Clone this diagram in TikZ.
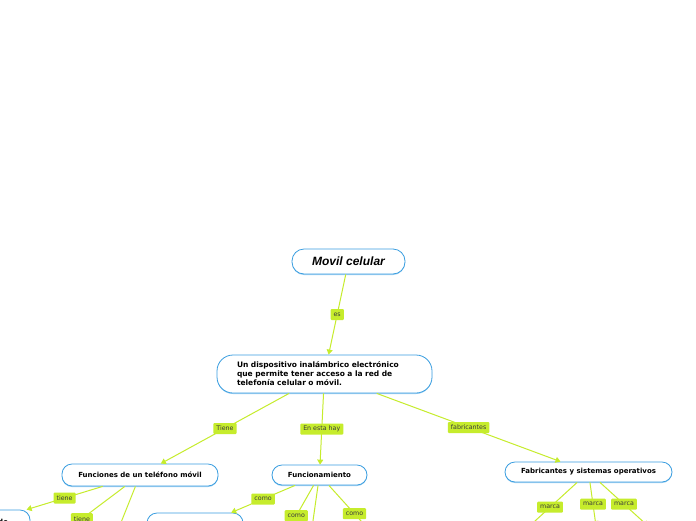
\documentclass[tikz,border=0pt]{standalone}
\usepackage{fontspec}
\newfontfamily\dv{DejaVu Sans}
\newfontfamily\lib{Liberation Sans}
\usetikzlibrary{arrows.meta,shadows}
\definecolor{mmlime}{HTML}{C6EC2C}
\definecolor{mmblue}{HTML}{3A9EE0}
\definecolor{mmshadow}{HTML}{A3D2F2}
\definecolor{mmtext}{HTML}{3B3B3B}
\tikzset{
 topic/.style={draw=mmblue, line width=0.8pt, fill=white, rounded corners=10pt,
   font=\dv\bfseries\fontsize{7}{9}\selectfont, text=black, inner sep=0pt,
   drop shadow={shadow xshift=0pt, shadow yshift=-1pt, fill=mmshadow, opacity=1}},
 lbl/.style={fill=mmlime, text=mmtext, font=\dv\fontsize{6.3}{7}\selectfont,
   inner xsep=3pt, inner ysep=0pt, minimum height=11pt, rounded corners=1pt},
 conn/.style={draw=mmlime, line width=1pt, -{Triangle[length=5pt,width=6pt]}},
}
\begin{document}
\begin{tikzpicture}[x=1pt,y=-1pt]
\useasboundingbox (0,0) rectangle (696,520);
\clip (0,0) rectangle (696,520);
\fill[white] (0,0) rectangle (696,520);
% nodes
\node[topic, minimum width=113pt, minimum height=25pt, rounded corners=12pt,
  font=\lib\bfseries\itshape\fontsize{12}{14}\selectfont] (mc) at (348.5,261.5) {Movil celular};
\node[topic, minimum width=215pt, minimum height=38pt, rounded corners=16pt,
  text width=175pt, align=left, font=\dv\bfseries\fontsize{7.5}{9}\selectfont] (def) at (324.5,374)
  {Un dispositivo inalámbrico electrónico\\que permite tener acceso a la red de\\telefonía celular o móvil.};
\node[topic, minimum width=156pt, minimum height=22pt] (fun) at (140,475) {Funciones de un teléfono móvil};
\node[topic, minimum width=95pt, minimum height=20pt] (fcm) at (319.5,475) {Funcionamiento};
\node[topic, minimum width=167pt, minimum height=20pt] (fab) at (588.5,472) {Fabricantes y sistemas operativos};
\node[topic, minimum width=88pt, minimum height=24pt, text width=44pt, inner xsep=22pt, align=right] (n1) at (-14,522) {de};
\node[topic, minimum width=96pt, minimum height=30pt] (n2) at (195,528) {};
% free ends below the picture
\coordinate (t2) at (39,551);
\coordinate (t3) at (110,550);
\coordinate (c2) at (279,546);
\coordinate (c3) at (306,570);
\coordinate (c4) at (380,542);
\coordinate (m1) at (523,532);
\coordinate (m2) at (596,526);
\coordinate (m3) at (648,526);
% connectors
\draw[conn] (mc) -- node[lbl]{es} (def);
\draw[conn] (def) -- node[lbl]{Tiene} (fun);
\draw[conn] (def) -- node[lbl]{En esta hay} (fcm);
\draw[conn] (def) -- node[lbl]{fabricantes} (fab);
\draw[conn] (fun) -- node[lbl]{tiene} (n1);
\draw[conn] (fun) -- node[lbl]{tiene} (t2);
\draw[conn] (fun) -- (t3);
\draw[conn] (fcm) -- node[lbl]{como} (n2);
\draw[conn] (fcm) -- node[lbl]{como} (c2);
\draw[conn] (fcm) -- (c3);
\draw[conn] (fcm) -- node[lbl]{como} (c4);
\draw[conn] (fab) -- node[lbl]{marca} (m1);
\draw[conn] (fab) -- node[lbl]{marca} (m2);
\draw[conn] (fab) -- node[lbl]{marca} (m3);
\end{tikzpicture}
\end{document}
